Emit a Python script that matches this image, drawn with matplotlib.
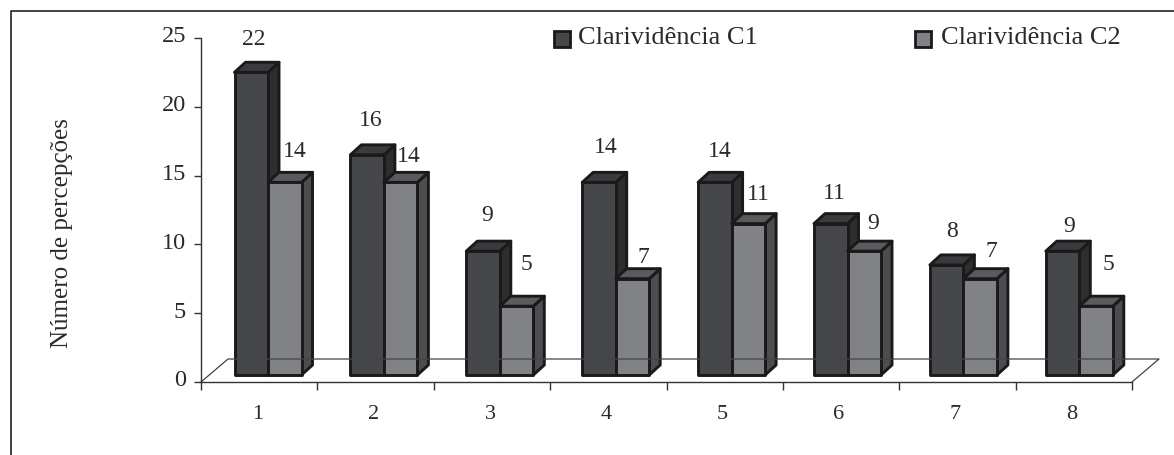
import matplotlib
matplotlib.use("Agg")
import matplotlib.pyplot as plt
import numpy as np
from matplotlib.lines import Line2D
from matplotlib.patches import Polygon, Rectangle

plt.rcParams['font.family'] = ['Liberation Serif', 'DejaVu Serif']

# dados do grafico
categorias = ['1', '2', '3', '4', '5', '6', '7', '8']
c1 = [22, 16, 9, 14, 14, 11, 8, 9]
c2 = [14, 14, 5, 7, 11, 9, 7, 5]
y_ticks = [0, 5, 10, 15, 20, 25]
series_nomes = ['Clarividência C1', 'Clarividência C2']

# deslocamento dos rotulos em relacao ao topo da barra (px)
off_c1 = [(-14, 34), (-13, 35), (-13, 37), (-10, 36), (-12, 32), (-13, 31), (-11, 34), (-10, 26)]
off_c2 = [(-7, 32), (-9, 27), (-7, 43), (-6, 22), (-7, 30), (-8, 29), (-6, 28), (-4, 43)]

W, H = 1174, 456
fig = plt.figure(figsize=(W / 100, H / 100), dpi=100)
# moldura: so a esquerda e o topo aparecem
fig.add_artist(Line2D([11 / W, 11 / W, 1], [0, 1 - 12 / H, 1 - 12 / H], color='#222222', lw=1.2,
                      transform=fig.transFigure))

# eixo em pixels: y 0 em 383, 25 em 39; x de 201 ate 1132
ax = fig.add_axes([201 / W, 1 - 383 / H, (1132 - 201) / W, (383 - 39) / H])
ax.patch.set_alpha(0)
ax.set_ylim(0, 25)
px_y = 25 / (383 - 39)
passo = 115.9
ax.set_xlim(1 + (201 - 268) / passo, 1 + (1132 - 268) / passo)
px_x = 1 / passo

largura = 33.5 * px_x
prof_x = 11 * px_x
prof_y = 10 * px_y
piso = 7 * px_y

esc = '#1a1a1a'
lw = 2.1
txt = '#2a2a2a'


def barra(x0, valor, frente, topo, lado):
    x1 = x0 + largura
    y0 = piso
    y1 = piso + valor
    ax.add_patch(Polygon([(x1, y0), (x1 + prof_x, y0 + prof_y), (x1 + prof_x, y1 + prof_y), (x1, y1)],
                         facecolor=lado, edgecolor=esc, lw=lw, joinstyle='round', clip_on=False))
    ax.add_patch(Polygon([(x0, y1), (x0 + prof_x, y1 + prof_y), (x1 + prof_x, y1 + prof_y), (x1, y1)],
                         facecolor=topo, edgecolor=esc, lw=lw, joinstyle='round', clip_on=False))
    ax.add_patch(Rectangle((x0, y0), largura, valor, facecolor=frente, edgecolor=esc, lw=lw,
                           joinstyle='round', clip_on=False))


# piso em perspectiva
xl, xr = ax.get_xlim()
fundo = (383 - 360) * px_y
ax.plot([xl, xl + 27 * px_x, xr + 27 * px_x, xr], [0, fundo, fundo, 0], color='#444444', lw=0.9, clip_on=False)

for i in range(len(categorias)):
    x = i + 1
    barra(x - largura, c1[i], '#45474a', '#3a3b3d', '#2e2e2f')
    barra(x, c2[i], '#808285', '#5a5b5e', '#4b4d4f')
    ax.annotate(str(c1[i]), (x, c1[i] + piso), xytext=off_c1[i], textcoords='offset pixels',
                ha='center', va='center', fontsize=17, color=txt)
    ax.annotate(str(c2[i]), (x + largura, c2[i] + piso), xytext=off_c2[i], textcoords='offset pixels',
                ha='center', va='center', fontsize=17, color=txt)

# eixos
for s in ['top', 'right']:
    ax.spines[s].set_visible(False)
for s in ['left', 'bottom']:
    ax.spines[s].set_color('#333333')
    ax.spines[s].set_linewidth(1.0)
ax.set_yticks(y_ticks)
ax.set_yticklabels([])
ax.tick_params(axis='y', length=5, width=1.0, color='#333333')
for v in y_ticks:
    ax.annotate(str(v), (xl, v), xytext=(-15, 2), textcoords='offset pixels', ha='right', va='center',
                fontsize=17.5, color=txt)
limites = np.linspace(xl, xr, len(categorias) + 1)
ax.set_xticks(limites)
ax.set_xticklabels([])
ax.tick_params(axis='x', length=6, width=1.0, color='#333333')
meio = (limites[:-1] + limites[1:]) / 2
for x, c in zip(meio, categorias):
    ax.annotate(c, (x, 0), xytext=(-2, -32), textcoords='offset pixels', ha='center', va='center',
                fontsize=16, color=txt)

fig.text(62 / W, 1 - 233 / H, 'Número de percepções', rotation=90, ha='center', va='center',
         fontsize=18, color=txt)

# legenda
for qx, tx, nome, cor in zip([554, 915], [578, 941], series_nomes, ['#45474a', '#808285']):
    fig.add_artist(Rectangle((qx / W, 1 - 48 / H), 16 / W, 16 / H, facecolor=cor, edgecolor=esc, lw=2,
                             transform=fig.transFigure))
    fig.text(tx / W, 1 - 38 / H, nome, ha='left', va='center', fontsize=19, color=txt)

fig.savefig('out.png', dpi=100)
